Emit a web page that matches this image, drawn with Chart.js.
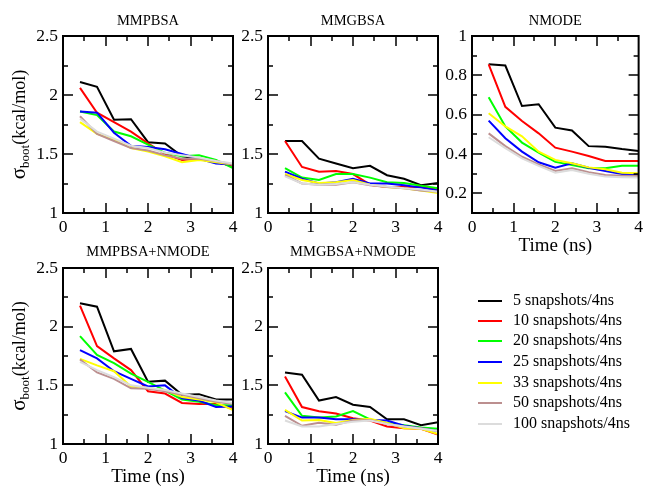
<!DOCTYPE html>
<html><head><meta charset="utf-8">
<script src="https://cdn.jsdelivr.net/npm/chart.js@4.4.1/dist/chart.umd.min.js"></script>
<style>
html,body{margin:0;padding:0;background:#fff;}
#wrap{position:relative;width:647px;height:486px;overflow:hidden;background:#fff;}
#wrap canvas{position:absolute;left:0;top:0;}
.legline{position:absolute;height:2px;width:24px;left:478px;}
.legtxt{position:absolute;left:513px;height:20px;line-height:20px;font-family:"Liberation Serif",serif;font-size:16px;color:#000;white-space:nowrap;}
</style></head><body>
<div id="wrap">
<canvas id="c1" width="647" height="486"></canvas>
<canvas id="c2" width="647" height="486"></canvas>
<canvas id="c3" width="647" height="486"></canvas>
<canvas id="c4" width="647" height="486"></canvas>
<canvas id="c5" width="647" height="486"></canvas>
<div id="legend"></div>
</div>
<script>
// ---------------- DATA ----------------
const timeNs = [0.4, 0.8, 1.2, 1.6, 2.0, 2.4, 2.8, 3.2, 3.6, 4.0];
const seriesLabels = ['5 snapshots/4ns','10 snapshots/4ns','20 snapshots/4ns','25 snapshots/4ns','33 snapshots/4ns','50 snapshots/4ns','100 snapshots/4ns'];
const xTickLabels = [0, 1, 2, 3, 4];
const yTicksMM = [1, 1.5, 2, 2.5];
const yTicksNM = [0.2, 0.4, 0.6, 0.8, 1];

// each row: one series (5,10,20,25,33,50,100 snapshots)
const mmpbsa = [
  [2.11, 2.07, 1.79, 1.795, 1.60, 1.59, 1.48, 1.46, 1.43, 1.40],
  [2.06, 1.85, 1.77, 1.69, 1.59, 1.50, 1.45, 1.46, 1.43, 1.40],
  [1.86, 1.83, 1.69, 1.65, 1.58, 1.51, 1.48, 1.49, 1.45, 1.38],
  [1.86, 1.85, 1.68, 1.57, 1.56, 1.54, 1.50, 1.46, 1.42, 1.41],
  [1.77, 1.67, 1.62, 1.55, 1.52, 1.48, 1.43, 1.45, 1.43, 1.41],
  [1.82, 1.67, 1.61, 1.55, 1.53, 1.49, 1.46, 1.46, 1.44, 1.41],
  [1.80, 1.69, 1.63, 1.57, 1.55, 1.51, 1.49, 1.47, 1.44, 1.42]
];
const mmgbsa = [
  [1.61, 1.61, 1.46, 1.42, 1.38, 1.40, 1.32, 1.29, 1.235, 1.255],
  [1.61, 1.39, 1.35, 1.355, 1.33, 1.24, 1.22, 1.22, 1.22, 1.20],
  [1.38, 1.30, 1.28, 1.33, 1.33, 1.30, 1.26, 1.255, 1.23, 1.21],
  [1.35, 1.29, 1.25, 1.26, 1.29, 1.25, 1.25, 1.235, 1.215, 1.19],
  [1.33, 1.28, 1.255, 1.26, 1.28, 1.24, 1.22, 1.21, 1.19, 1.17],
  [1.32, 1.25, 1.24, 1.24, 1.26, 1.235, 1.22, 1.21, 1.19, 1.18],
  [1.31, 1.25, 1.24, 1.245, 1.26, 1.24, 1.225, 1.21, 1.20, 1.18]
];
const nmode = [
  [0.856, 0.85, 0.644, 0.653, 0.534, 0.52, 0.44, 0.437, 0.425, 0.415],
  [0.856, 0.64, 0.568, 0.505, 0.432, 0.412, 0.39, 0.364, 0.364, 0.364],
  [0.688, 0.54, 0.458, 0.407, 0.36, 0.344, 0.327, 0.327, 0.34, 0.34],
  [0.57, 0.48, 0.412, 0.358, 0.33, 0.353, 0.33, 0.314, 0.298, 0.298],
  [0.607, 0.54, 0.49, 0.412, 0.37, 0.353, 0.332, 0.322, 0.305, 0.302],
  [0.505, 0.44, 0.386, 0.347, 0.314, 0.327, 0.307, 0.293, 0.29, 0.288],
  [0.485, 0.43, 0.378, 0.34, 0.305, 0.318, 0.30, 0.285, 0.282, 0.28]
];
const mmpbsaNmode = [
  [2.20, 2.17, 1.79, 1.81, 1.53, 1.54, 1.42, 1.425, 1.38, 1.38],
  [2.18, 1.835, 1.73, 1.63, 1.45, 1.43, 1.35, 1.34, 1.34, 1.30],
  [1.92, 1.76, 1.69, 1.60, 1.53, 1.455, 1.38, 1.36, 1.33, 1.33],
  [1.80, 1.73, 1.62, 1.555, 1.49, 1.50, 1.39, 1.37, 1.315, 1.32],
  [1.725, 1.67, 1.62, 1.49, 1.475, 1.46, 1.40, 1.38, 1.355, 1.29],
  [1.72, 1.61, 1.555, 1.475, 1.47, 1.45, 1.42, 1.39, 1.36, 1.34],
  [1.70, 1.63, 1.57, 1.50, 1.48, 1.46, 1.43, 1.40, 1.37, 1.35]
];
const mmgbsaNmode = [
  [1.61, 1.59, 1.37, 1.40, 1.335, 1.315, 1.21, 1.21, 1.16, 1.185],
  [1.575, 1.315, 1.28, 1.26, 1.22, 1.20, 1.15, 1.135, 1.13, 1.08],
  [1.44, 1.24, 1.225, 1.235, 1.28, 1.21, 1.18, 1.16, 1.14, 1.13],
  [1.28, 1.225, 1.225, 1.21, 1.21, 1.205, 1.20, 1.155, 1.135, 1.11],
  [1.29, 1.20, 1.205, 1.18, 1.205, 1.215, 1.18, 1.135, 1.13, 1.085],
  [1.24, 1.155, 1.18, 1.165, 1.20, 1.205, 1.17, 1.15, 1.135, 1.11],
  [1.20, 1.15, 1.15, 1.17, 1.19, 1.20, 1.17, 1.15, 1.13, 1.11]
];

// ---------------- STYLE ----------------
const seriesColors = ['#000000','#ff0000','#00ff00','#0000ff','#ffff00','rgb(188,143,143)','rgb(220,220,220)'];
const SERIF = '"Liberation Serif", "Times New Roman", serif';

const framePlugin = {
  id: 'frame',
  afterDraw(chart, args, o) {
    const ctx = chart.ctx, a = chart.chartArea, xs = chart.scales.x, ys = chart.scales.y;
    ctx.save();
    ctx.strokeStyle = '#000';
    ctx.lineWidth = 1.5;
    ctx.beginPath();
    const n = Math.round((o.xMax - o.xMin) / o.xMinor);
    for (let i = 1; i < n; i++) {
      const v = o.xMin + i * o.xMinor;
      const len = (i % 2 === 0) ? 10 : 5;
      const px = Math.round(xs.getPixelForValue(v));
      ctx.moveTo(px, a.bottom); ctx.lineTo(px, a.bottom - len);
      ctx.moveTo(px, a.top); ctx.lineTo(px, a.top + len);
    }
    const m = Math.round((o.yMax - o.yMin) / o.yMinor);
    for (let i = 1; i < m; i++) {
      const v = o.yMin + i * o.yMinor;
      const major = ((i + o.yMajorOffset) % 2 === 0);
      const len = major ? 10 : 5;
      const py = Math.round(ys.getPixelForValue(v));
      ctx.moveTo(a.left, py); ctx.lineTo(a.left + len, py);
      ctx.moveTo(a.right, py); ctx.lineTo(a.right - len, py);
    }
    ctx.stroke();
    ctx.lineWidth = 2;
    ctx.strokeRect(a.left, a.top, a.right - a.left, a.bottom - a.top);
    ctx.fillStyle = '#000';
    // panel title
    ctx.font = '14.5px ' + SERIF;
    ctx.textAlign = 'center';
    ctx.textBaseline = 'alphabetic';
    ctx.fillText(o.title, (a.left + a.right) / 2, a.top - o.titleGap);
    // x title
    if (o.xTitle) {
      ctx.font = '19px ' + SERIF;
      ctx.fillText('Time (ns)', (a.left + a.right) / 2, a.bottom + 37.5);
    }
    // y title with subscript
    if (o.yTitle) {
      const cy = (a.top + a.bottom) / 2;
      ctx.translate(25, cy);
      ctx.rotate(-Math.PI / 2);
      ctx.textAlign = 'left';
      const f1 = '21px ' + SERIF, f2 = '13px ' + SERIF, f3 = '18px ' + SERIF;
      ctx.font = f1; const w1 = ctx.measureText('σ').width;
      ctx.font = f2; const w2 = ctx.measureText('boot').width;
      ctx.font = f3; const w3 = ctx.measureText('(kcal/mol)').width;
      let x0 = -(w1 + w2 + w3) / 2;
      ctx.font = f1; ctx.fillText('σ', x0, 0); x0 += w1;
      ctx.font = f2; ctx.fillText('boot', x0, 4); x0 += w2;
      ctx.font = f3; ctx.fillText('(kcal/mol)', x0, 0);
    }
    ctx.restore();
  }
};

function makePanel(id, rows, box, cfg) {
  const W = 647, H = 486, Wy = 40, Hx = 30;
  const datasets = rows.map((vals, i) => ({
    label: seriesLabels[i],
    data: vals.map((v, k) => ({ x: timeNs[k], y: v })),
    borderColor: seriesColors[i],
    backgroundColor: seriesColors[i],
    borderWidth: 2,
    pointRadius: 0,
    tension: 0,
    fill: false,
    order: rows.length - 1 - i
  }));
  const yTicks = cfg.yTicks;
  return new Chart(document.getElementById(id), {
    type: 'line',
    data: { datasets },
    plugins: [framePlugin],
    options: {
      responsive: false,
      devicePixelRatio: 1,
      animation: false,
      events: [],
      layout: { padding: { left: box.L - Wy, top: box.T, right: W - box.R, bottom: H - box.B - Hx } },
      plugins: {
        legend: { display: false },
        tooltip: { enabled: false },
        title: { display: false },
        frame: {
          title: cfg.title, titleGap: cfg.titleGap, xTitle: cfg.xTitle, yTitle: cfg.yTitle,
          xMin: 0, xMax: 4, xMinor: 0.5,
          yMin: cfg.yMin, yMax: cfg.yMax, yMinor: cfg.yMinor, yMajorOffset: cfg.yMajorOffset
        }
      },
      scales: {
        x: {
          type: 'linear', min: 0, max: 4,
          grid: { display: false, drawTicks: false },
          border: { display: false },
          afterBuildTicks: s => { s.ticks = xTickLabels.map(v => ({ value: v })); },
          afterFit: s => { s.height = Hx; },
          ticks: { color: '#000', padding: 4, maxRotation: 0, autoSkip: false,
                   font: { family: SERIF, size: 17.5 }, callback: v => String(v) }
        },
        y: {
          type: 'linear', min: cfg.yMin, max: cfg.yMax,
          grid: { display: false, drawTicks: false },
          border: { display: false },
          afterBuildTicks: s => { s.ticks = yTicks.map(v => ({ value: v })); },
          afterFit: s => { s.width = Wy; },
          ticks: { color: '#000', padding: 5, autoSkip: false,
                   font: { family: SERIF, size: 17.5 }, callback: v => String(v) }
        }
      }
    }
  });
}

const mmCfg = { yMin: 1, yMax: 2.5, yMinor: 0.25, yTicks: yTicksMM, yMajorOffset: 0 };
const nmCfg = { yMin: 0.1, yMax: 1, yMinor: 0.1, yTicks: yTicksNM, yMajorOffset: 1 };

makePanel('c1', mmpbsa, { L: 63, T: 36, R: 233, B: 213 }, Object.assign({}, mmCfg, { title: 'MMPBSA', titleGap: 11.5, xTitle: false, yTitle: true }));
makePanel('c2', mmgbsa, { L: 268, T: 36, R: 438, B: 213 }, Object.assign({}, mmCfg, { title: 'MMGBSA', titleGap: 11.5, xTitle: false, yTitle: false }));
makePanel('c3', nmode, { L: 472, T: 36, R: 642.5, B: 213 }, Object.assign({}, nmCfg, { title: 'NMODE', titleGap: 11.5, xTitle: true, yTitle: false }));
makePanel('c4', mmpbsaNmode, { L: 63, T: 268, R: 233, B: 444 }, Object.assign({}, mmCfg, { title: 'MMPBSA+NMODE', titleGap: 12.5, xTitle: true, yTitle: true }));
makePanel('c5', mmgbsaNmode, { L: 268, T: 268, R: 438, B: 444 }, Object.assign({}, mmCfg, { title: 'MMGBSA+NMODE', titleGap: 12.5, xTitle: true, yTitle: false }));

// legend
const legendRowsY = [301, 321, 341, 362, 383, 403, 424];
const leg = document.getElementById('legend');
seriesLabels.forEach((lab, i) => {
  const ln = document.createElement('div');
  ln.className = 'legline';
  ln.style.top = (legendRowsY[i] - 1) + 'px';
  ln.style.background = seriesColors[i];
  leg.appendChild(ln);
  const tx = document.createElement('div');
  tx.className = 'legtxt';
  tx.style.top = (legendRowsY[i] - 11) + 'px';
  tx.textContent = lab;
  leg.appendChild(tx);
});
</script>
</body></html>
